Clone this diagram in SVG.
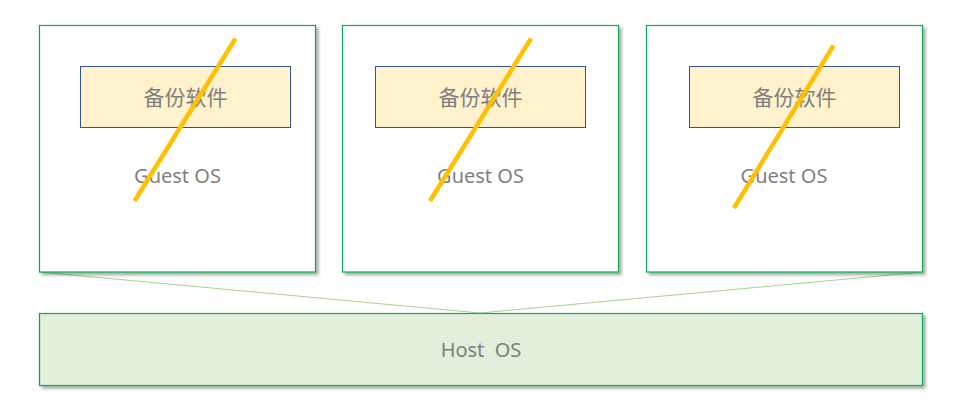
<svg xmlns="http://www.w3.org/2000/svg" width="963" height="416" viewBox="0 0 963 416">
<defs>
<filter id="sh" x="-5%" y="-5%" width="110%" height="115%">
<feDropShadow dx="2.5" dy="2.5" stdDeviation="1.5" flood-color="#000" flood-opacity="0.35"/>
</filter>
<style>
.vm{fill:#fff;stroke:#00B050;stroke-width:1.2;filter:url(#sh)}
.app{fill:#FFF2CC;stroke:#2F5597;stroke-width:1}
.host{fill:#E2EFDA;stroke:#00B050;stroke-width:1.2;filter:url(#sh)}
.t{font-family:"Noto Sans","Noto Sans CJK SC",sans-serif;fill:#7F7F7F;text-anchor:middle}
.cn{font-size:21px}
.en{font-size:20px}
.x{stroke:#FFC000;stroke-width:4.5;fill:none}
.c{stroke:#A9D18E;stroke-width:1;fill:none}
</style>
</defs>
<rect width="963" height="416" fill="#fff"/>
<g id="connectors">
<line class="c" x1="39.5" y1="272" x2="480" y2="313"/>
<line class="c" x1="922.5" y1="272" x2="480" y2="313"/>
</g>
<g id="host">
<rect class="host" x="39.5" y="313.5" width="883" height="72"/>
<text class="t en" x="481" y="357" xml:space="preserve">Host  OS</text>
</g>
<g id="vm1">
<rect class="vm" x="39.5" y="25.5" width="276" height="246.5"/>
<rect class="app" x="80.5" y="66.5" width="210" height="61"/>
<text class="t cn" x="185.5" y="105">备份软件</text>
<text class="t en" x="177.5" y="183">Guest OS</text>
<line class="x" x1="235.5" y1="38.5" x2="134.5" y2="201"/>
</g>
<g id="vm2">
<rect class="vm" x="342.5" y="25.5" width="276" height="246.5"/>
<rect class="app" x="375.5" y="66.5" width="210" height="61"/>
<text class="t cn" x="480.5" y="105">备份软件</text>
<text class="t en" x="480.5" y="183">Guest OS</text>
<line class="x" x1="531" y1="38.5" x2="430" y2="201"/>
</g>
<g id="vm3">
<rect class="vm" x="646.5" y="25.5" width="276" height="246.5"/>
<rect class="app" x="689.5" y="66.5" width="210" height="61"/>
<text class="t cn" x="794.5" y="105">备份软件</text>
<text class="t en" x="784" y="183">Guest OS</text>
<line class="x" x1="833.5" y1="45.5" x2="734" y2="208"/>
</g>
</svg>
